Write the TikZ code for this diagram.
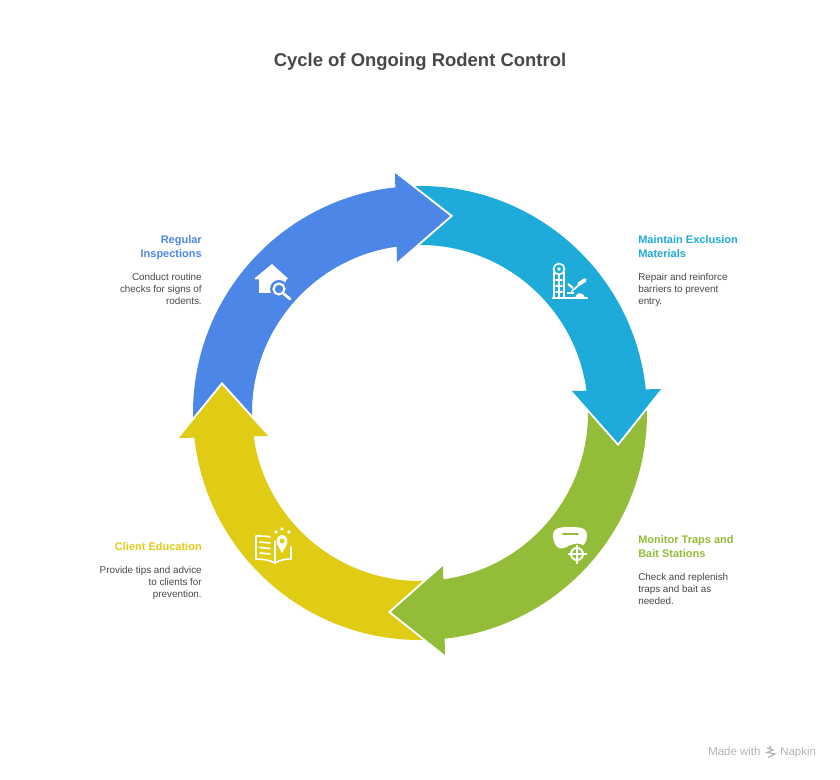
\documentclass[tikz,border=0pt]{standalone}
\usepackage{fontspec}
\setmainfont{Liberation Sans}
\usetikzlibrary{calc}
\definecolor{cblue}{HTML}{4C86E6}
\definecolor{ccyan}{HTML}{1EABDA}
\definecolor{cgreen}{HTML}{93BD38}
\definecolor{cyell}{HTML}{E0CB15}
\definecolor{ctext}{HTML}{484848}
\definecolor{cmark}{HTML}{B4B4B4}
\newcommand{\ringbody}[3]{\fill[#3] ($(c)+(#1:170.25pt)$) arc[start angle=#1,end angle=#2,radius=170.25pt] -- ($(c)+(#2:126pt)$) arc[start angle=#2,end angle=#1,radius=126pt] -- cycle;}
\tikzset{
  head/.style={white,line width=3pt,miter limit=10},
  heading/.style={font=\fontsize{8.25}{10.5}\selectfont\bfseries,inner sep=0pt,anchor=base},
  bodytext/.style={font=\fontsize{7.4}{9}\selectfont,text=ctext,inner sep=0pt},
  ico/.style={white,line width=1.25pt,line cap=round,line join=round},
}
\begin{document}
\begin{tikzpicture}[x=0.75pt,y=-0.75pt]
\useasboundingbox (0,0) rectangle (840,780);
\fill[white] (0,0) rectangle (840,780);
\coordinate (c) at (420,413);
% ring bodies
\ringbody{94}{4}{ccyan}
\ringbody{3}{-85}{cgreen}
\ringbody{-87}{-176}{cyell}
\ringbody{183}{94}{cblue}
% heads
\draw[head] (395,173) -- (450,216) -- (397,262);
\fill[cblue] (395,173) -- (450,216) -- (397,262) -- cycle;
\draw[head] (661,389) -- (618,443) -- (572,391);
\fill[ccyan] (661,389) -- (618,443) -- (572,391) -- cycle;
\draw[head] (443,566) -- (391,612) -- (445,655);
\fill[cgreen] (443,566) -- (391,612) -- (445,655) -- cycle;
\draw[head] (179,438) -- (222,385) -- (268,436);
\fill[cyell] (179,438) -- (222,385) -- (268,436) -- cycle;
% title
\node[font=\fontsize{13.85}{18}\selectfont\bfseries,text=ctext,inner sep=0pt,anchor=base] (title) at (420,67) {Cycle of Ongoing Rodent Control};
% labels
\node[heading,text=cblue,anchor=north east,align=right] (h1) at (202,235) {Regular\\Inspections};
\node[bodytext,anchor=north east,align=right] (b1) at (202,273) {Conduct routine\\checks for signs of\\rodents.};
\node[heading,text=ccyan,anchor=north west,align=left] (h2) at (638,235) {Maintain Exclusion\\Materials};
\node[bodytext,anchor=north west,align=left] (b2) at (638,273) {Repair and reinforce\\barriers to prevent\\entry.};
\node[heading,text=cgreen,anchor=north west,align=left] (h3) at (638,535) {Monitor Traps and\\Bait Stations};
\node[bodytext,anchor=north west,align=left] (b3) at (638,573) {Check and replenish\\traps and bait as\\needed.};
\node[heading,text=cyell,anchor=north east,align=right] (h4) at (202,542) {Client Education};
\node[bodytext,anchor=north east,align=right] (b4) at (202,566) {Provide tips and advice\\to clients for\\prevention.};
% house icon
\fill[white] (272,264) -- (288,278.5) -- (285.5,280.5) -- (285.5,293) -- (259,293) -- (259,279.5) -- (255,279.5) -- (255,278) -- cycle;
\fill[cblue] (279,289) circle[radius=9];
\draw[white,line width=1.6pt] (279,289) circle[radius=5.5];
\draw[white,line width=2pt,line cap=round] (284,294) -- (290,299);
% exclusion icon
\draw[ico] (559,269) circle[radius=5.5];
\fill[white] (559,269) circle[radius=1.8];
\draw[ico] (554,272) -- (554,298) (564,272) -- (564,298);
\draw[ico] (559,274.5) -- (559,298);
\draw[ico] (556,280) -- (562,280) (556,286) -- (562,286) (556,292) -- (562,292);
\draw[white,line width=1.6pt,line cap=round] (553,298) -- (587,298);
\draw[white,line width=2.8pt,line cap=round] (579,284) -- (585,280);
\draw[ico] (572,291) -- (579,285);
\draw[white,line width=1.6pt] (568,284) -- (573,288);
\draw[white,line width=1.6pt] (567,293) -- (574,293);
\fill[white] (575,298) .. controls (576,292) and (583,291) .. (585,298) -- cycle;
% traps icon
\fill[white] (553,535) .. controls (553,529) and (557,527) .. (570,527) .. controls (583,527) and (587,529) .. (587,535) .. controls (587,543) and (583,548) .. (576,548) -- (570,545) .. controls (566,548) and (562,549) .. (559,548) .. controls (555,546) and (553,541) .. (553,535) -- cycle;
\draw[cgreen,line width=1.4pt,line cap=round] (563,534) -- (578,534);
\fill[cgreen] (577,554) circle[radius=10.5];
\draw[white,line width=1.5pt] (577,554) circle[radius=6];
\draw[white,line width=1.5pt] (568,554) -- (587,554) (577,545) -- (577,564);
% education icon
\draw[ico] (270,537) .. controls (267,536) and (260,536) .. (256,536) -- (256,559) .. controls (262,559) and (270,560) .. (275,563) .. controls (280,560) and (285,559) .. (291,559) -- (291,547);
\draw[ico] (275,541) -- (275,563);
\draw[ico] (260,542) -- (270,543) (260,547.5) -- (270,548.5) (260,553) -- (270,554);
\fill[white] (282,553) -- (277.5,545) .. controls (275,538) and (279,535) .. (282,535) .. controls (285,535) and (289,538) .. (286.5,545) -- cycle;
\fill[cyell] (282,541) circle[radius=2.4];
\fill[white] (276,532) circle[radius=1.8] (282,529) circle[radius=1.8] (289,532) circle[radius=1.8];
% watermark
\node[font=\fontsize{8.6}{10}\selectfont,text=cmark,inner sep=0pt,anchor=base west] (m1) at (708,756) {Made with};
\node[font=\fontsize{8.6}{10}\selectfont,text=cmark,inner sep=0pt,anchor=base west] (m2) at (780,756) {Napkin};
\draw[cmark,line width=0.9pt] (767,748) -- (773,750) -- (767,752.5) -- (775,754) -- (768,757.5) (769,746) -- (771,748);
\end{tikzpicture}
\end{document}
